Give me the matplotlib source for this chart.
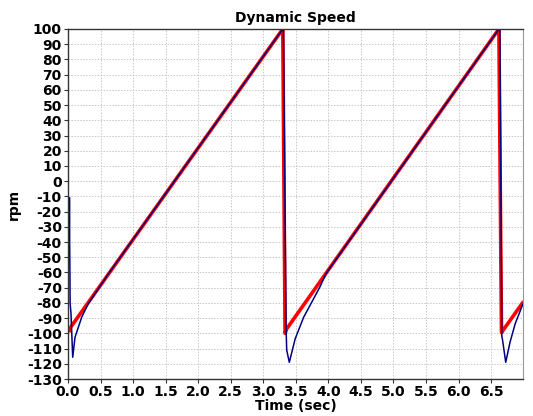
import numpy as np
import matplotlib
matplotlib.use('Agg')
import matplotlib.pyplot as plt

# speed command (red) and measured speed (blue), rpm vs sec
t_ref = [0.015, 0.04, 3.30, 3.335, 3.36, 6.62, 6.66, 6.70, 7.0]
w_ref = [-99.3, -96.0, 100.0, -100.0, -97.0, 100.0, -99.5, -97.0, -79.0]

t_act = [0.025, 0.025, 0.030, 0.032, 0.046, 0.072, 0.108, 0.21, 0.31, 0.466, 0.60,
         3.30, 3.31, 3.35, 3.36, 3.40, 3.49, 3.62, 3.745, 3.87, 3.97,
         6.62, 6.635, 6.665, 6.675, 6.725, 6.79, 6.87, 6.98, 7.0]
w_act = [-11.0, -40.0, -63.0, -80.0, -87.0, -115.7, -102.5, -89.4, -80.6, -70.7, -62.2,
         100.0, 100.0, -96.0, -111.0, -119.0, -103.6, -89.4, -79.5, -69.5, -60.3,
         100.0, 100.0, -102.0, -104.0, -119.0, -106.0, -93.7, -81.7, -80.0]

xticks = np.arange(0.0, 6.51, 0.5)
yticks = np.arange(-130, 101, 10)

fig = plt.figure(figsize=(5.33, 4.16), dpi=100)
ax = fig.add_axes([0.1276, 0.0889, 0.8542, 0.8414])

ax.plot(t_ref, w_ref, color='#ff0000', linewidth=2.6, solid_capstyle='butt')
ax.plot(t_act, w_act, color='#00007f', linewidth=1.1)

ax.set_xlim(0, 6.995)
ax.set_ylim(-130, 100)
ax.set_xticks(xticks)
ax.set_yticks(yticks)
ax.set_xticklabels(['%.1f' % v for v in xticks], fontsize=10, fontweight='bold')
ax.set_yticklabels(['%d' % v for v in yticks], fontsize=10, fontweight='bold')
ax.tick_params(direction='out', length=3, width=0.8, pad=1.5, color='#333333')

ax.grid(True, color='#c8c8c8', linestyle=(0, (1.5, 1.5)), linewidth=0.7)
ax.set_axisbelow(True)

for s in ['left', 'bottom', 'top']:
    ax.spines[s].set_color('#333333')
    ax.spines[s].set_linewidth(1.0)
ax.spines['right'].set_color('#999999')

ax.set_title('Dynamic Speed', fontsize=10, fontweight='bold', pad=5)
ax.set_xlabel('Time (sec)', fontsize=10, fontweight='bold', labelpad=0)
ax.set_ylabel('rpm', fontsize=10, fontweight='bold', labelpad=4)

fig.savefig('out.png', dpi=100)
